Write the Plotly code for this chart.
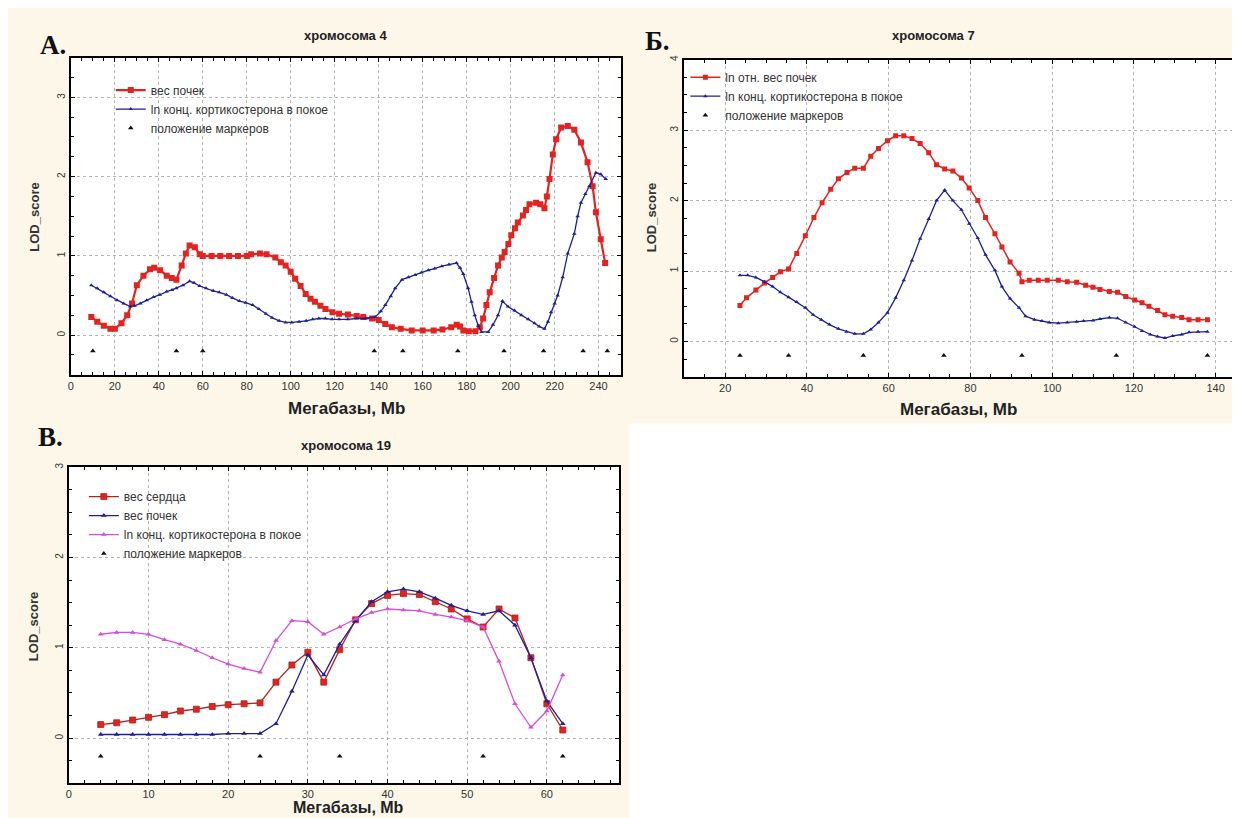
import plotly.graph_objects as go

FONT = "Liberation Sans"
W, H = 1240, 818

# ---------------- Panel A: chromosome 4 ----------------
a_red_x = [9.3, 12, 15, 18, 20, 23, 25.6, 27.8, 30, 33, 36, 37.9, 40.6, 43.6, 45.9, 48, 50.4, 52.3, 54, 56.4, 58.6,
           60, 64, 68, 72, 76, 80, 82, 86, 89, 93, 95.5, 97.7, 100, 102, 104.5, 106.8, 109, 111, 113.5, 115.8, 119,
           122, 126, 130, 133, 137, 140, 143, 146, 150, 155, 160, 165, 169, 173, 175.5, 177, 178.5, 181, 184, 186,
           187.5, 189, 190.5, 192.5, 194.3, 196, 197.3, 199, 200.3, 202, 203.3, 205.6, 207, 208.6, 211.6, 213.5,
           215.4, 216.5, 217.7, 219.2, 220.7, 223, 226, 229, 232, 235, 237.3, 238.8, 241, 243]
a_red_y = [0.23, 0.17, 0.12, 0.08, 0.08, 0.15, 0.25, 0.40, 0.63, 0.75, 0.83, 0.85, 0.82, 0.75, 0.72, 0.70, 0.88, 1.03,
           1.13, 1.11, 1.02, 1.00, 1.00, 1.00, 1.00, 1.00, 1.00, 1.02, 1.03, 1.02, 0.98, 0.92, 0.88, 0.80, 0.71, 0.62,
           0.52, 0.46, 0.42, 0.37, 0.33, 0.29, 0.27, 0.26, 0.24, 0.23, 0.21, 0.19, 0.14, 0.10, 0.08, 0.06, 0.06, 0.06,
           0.07, 0.10, 0.13, 0.11, 0.06, 0.05, 0.05, 0.10, 0.21, 0.38, 0.54, 0.72, 0.88, 0.98, 1.05, 1.15, 1.26, 1.35,
           1.42, 1.51, 1.58, 1.65, 1.67, 1.65, 1.60, 1.75, 1.97, 2.28, 2.47, 2.62, 2.64, 2.59, 2.43, 2.18, 1.88, 1.55,
           1.21, 0.91]
a_blue_x = [9.3, 12, 15, 18, 21, 24, 27, 29, 31.6, 34.5, 37.6, 40.5, 43.6, 46, 48, 51, 54, 56, 58.6, 61.5, 64.7, 67.5,
            70.7, 73.5, 76.7, 79.5, 82.7, 85.5, 88.7, 91.5, 94.7, 97.7, 100.5, 103.8, 107, 110, 112.8, 115.8, 118.8,
            122, 126, 130, 134, 138.5, 141, 143, 145.5, 147.5, 150.6, 153.5, 156.6, 159.5, 162.6, 165.5, 168.7, 172,
            175.4, 177, 178.5, 180.7, 182.2, 183.7, 185.3, 186.8, 189.8, 192, 194.3, 196.3, 198.8, 201.8, 204.9, 208,
            210.9, 213, 215.4, 217, 218.4, 220, 221.4, 223.7, 226, 229, 230.5, 232, 234, 235.8, 238.8, 241, 243.3]
a_blue_y = [0.63, 0.59, 0.54, 0.49, 0.44, 0.40, 0.36, 0.37, 0.40, 0.44, 0.48, 0.51, 0.55, 0.57, 0.59, 0.63, 0.68, 0.66,
            0.62, 0.59, 0.56, 0.54, 0.51, 0.47, 0.43, 0.41, 0.38, 0.33, 0.27, 0.22, 0.18, 0.16, 0.16, 0.17, 0.18, 0.20,
            0.21, 0.21, 0.20, 0.20, 0.20, 0.21, 0.21, 0.23, 0.30, 0.38, 0.49, 0.59, 0.70, 0.73, 0.76, 0.79, 0.82, 0.84,
            0.87, 0.89, 0.91, 0.85, 0.77, 0.59, 0.42, 0.25, 0.12, 0.04, 0.04, 0.13, 0.25, 0.43, 0.36, 0.31, 0.25, 0.20,
            0.15, 0.11, 0.08, 0.17, 0.29, 0.40, 0.50, 0.73, 1.03, 1.28, 1.50, 1.67, 1.78, 1.88, 2.05, 2.03, 1.97]
a_mark_x = [10, 48, 60, 138, 151, 176, 197, 215, 233, 244]
a_mark_y = [-0.2] * len(a_mark_x)

# ---------------- Panel Б: chromosome 7 ----------------
b_red_x = [23.6, 25.2, 27.5, 29.6, 31.6, 33.5, 35.5, 37.5, 39.6, 41.7, 43.7, 45.8, 47.7, 49.8, 51.7, 53.8, 55.6, 57.5,
           59.7, 61.7, 63.7, 65.7, 67.7, 69.8, 71.7, 73.7, 75.7, 77.8, 79.7, 81.8, 83.7, 86, 87.7, 89.7, 91.9, 92.6,
           94.4, 96.6, 98.8, 101.5, 103.7, 106, 108.2, 110, 111.7, 114, 116, 118, 120.2, 122, 123.7, 125.8, 127.6,
           129.5, 131.7, 133.5, 135.7, 138]
b_red_y = [0.51, 0.62, 0.73, 0.83, 0.91, 0.99, 1.03, 1.25, 1.50, 1.76, 1.97, 2.16, 2.31, 2.40, 2.46, 2.46, 2.63, 2.74,
           2.85, 2.92, 2.92, 2.88, 2.81, 2.68, 2.51, 2.45, 2.42, 2.32, 2.18, 2.00, 1.76, 1.53, 1.34, 1.13, 0.97, 0.85,
           0.87, 0.87, 0.87, 0.87, 0.85, 0.84, 0.80, 0.77, 0.74, 0.71, 0.70, 0.64, 0.59, 0.55, 0.50, 0.44, 0.38, 0.36,
           0.34, 0.31, 0.31, 0.31]
b_blue_x = [23.6, 25.5, 27.5, 29.6, 31.6, 33.5, 35.5, 37.5, 39.6, 41.5, 43.5, 45.5, 47.7, 49.7, 51.7, 53.8, 55.6, 57.5,
            59.7, 61.7, 63.7, 65.7, 67.7, 69.8, 71.7, 73.7, 75.7, 77.8, 79.7, 81.8, 83.7, 86, 87.7, 89.7, 91.9, 93.5,
            95.7, 97.5, 99.3, 101.5, 103.7, 106, 107.7, 110, 111.7, 114, 116, 118, 120.2, 122, 124, 125.8, 127.6,
            129.5, 131.7, 133.5, 135.7, 138]
b_blue_y = [0.94, 0.94, 0.91, 0.85, 0.78, 0.70, 0.63, 0.56, 0.48, 0.38, 0.31, 0.24, 0.18, 0.14, 0.11, 0.11, 0.17, 0.27,
            0.41, 0.62, 0.87, 1.15, 1.46, 1.74, 2.00, 2.15, 2.00, 1.87, 1.67, 1.47, 1.23, 1.01, 0.78, 0.61, 0.48, 0.36,
            0.31, 0.29, 0.27, 0.26, 0.27, 0.28, 0.29, 0.30, 0.32, 0.34, 0.33, 0.27, 0.21, 0.15, 0.10, 0.07, 0.05, 0.08,
            0.10, 0.13, 0.14, 0.14]
b_mark_x = [23.6, 35.5, 53.8, 73.5, 92.6, 115.7, 138]
b_mark_y = [-0.2] * len(b_mark_x)

# ---------------- Panel В: chromosome 19 ----------------
c_x = [4, 6, 8, 10, 12, 14, 16, 18, 20, 22, 24, 26, 28, 30, 32, 34, 36, 38, 40, 42, 44, 46, 48, 50, 52, 54, 56, 58,
       60, 62]
c_heart_y = [0.15, 0.17, 0.20, 0.23, 0.26, 0.30, 0.32, 0.35, 0.37, 0.38, 0.39, 0.62, 0.81, 0.95, 0.62, 0.98, 1.31,
             1.49, 1.58, 1.60, 1.59, 1.51, 1.43, 1.32, 1.23, 1.43, 1.33, 0.89, 0.38, 0.09]
c_kidney_y = [0.04, 0.04, 0.04, 0.04, 0.04, 0.04, 0.04, 0.04, 0.05, 0.05, 0.05, 0.16, 0.52, 0.92, 0.70, 1.04, 1.30,
              1.51, 1.62, 1.65, 1.62, 1.55, 1.47, 1.41, 1.37, 1.41, 1.25, 0.89, 0.41, 0.16]
c_cort_y = [1.15, 1.17, 1.17, 1.15, 1.09, 1.04, 0.97, 0.89, 0.82, 0.77, 0.73, 1.08, 1.30, 1.29, 1.15, 1.23, 1.32,
            1.39, 1.43, 1.42, 1.41, 1.37, 1.34, 1.30, 1.23, 0.85, 0.38, 0.12, 0.30, 0.70]
c_mark_x = [4, 24, 34, 52, 62]
c_mark_y = [-0.2] * len(c_mark_x)

RED = "#e2231f"
DARKRED = "#b0221c"
BLUE = "#1f1f96"
MAGENTA = "#d94cd9"
BLACK = "#111111"

fig = go.Figure()


def line(x, y, name, color, symbol, size, ax, legend, width=1.3, mcolor=None, mline=None):
    fig.add_trace(go.Scatter(
        x=x, y=y, mode="lines+markers", name=name,
        line=dict(color=color, width=width),
        marker=dict(symbol=symbol, size=size, color=mcolor or color,
                    line=dict(width=0.8 if mline else 0, color=mline or color)),
        xaxis="x" + ax, yaxis="y" + ax, legend=legend))


def marks(x, y, ax, legend):
    fig.add_trace(go.Scatter(
        x=x, y=y, mode="markers", name="положение маркеров",
        marker=dict(symbol="triangle-up", size=5, color=BLACK),
        xaxis="x" + ax, yaxis="y" + ax, legend=legend))


# A
line(a_red_x, a_red_y, "вес почек", RED, "square", 6, "", "legend", width=2.2)
line(a_blue_x, a_blue_y, "ln конц. кортикостерона в покое", BLUE, "triangle-up", 4, "", "legend", width=1.3)
marks(a_mark_x, a_mark_y, "", "legend")
# Б
line(b_red_x, b_red_y, "ln отн. вес почек", RED, "square", 5, "2", "legend2", width=1.5)
line(b_blue_x, b_blue_y, "ln конц. кортикостерона в покое", BLUE, "triangle-up", 4, "2", "legend2", width=1.3)
marks(b_mark_x, b_mark_y, "2", "legend2")
# В
line(c_x, c_heart_y, "вес сердца", DARKRED, "square", 6, "3", "legend3", width=1.3, mcolor=RED, mline=DARKRED)
line(c_x, c_kidney_y, "вес почек", BLUE, "triangle-up", 5, "3", "legend3", width=1.3)
line(c_x, c_cort_y, "ln конц. кортикостерона в покое", MAGENTA, "triangle-up", 5, "3", "legend3", width=1.3)
marks(c_mark_x, c_mark_y, "3", "legend3")


def px_x(px):
    return px / W


def px_y(py):
    return 1 - py / H


def xaxis(left, right, rng, dtick, minor, anchor):
    return dict(domain=[px_x(left), px_x(right)], range=rng, dtick=dtick, tick0=0, anchor=anchor,
                showline=True, linecolor="black", linewidth=2, mirror="allticks",
                ticks="inside", ticklen=4, tickcolor="black", tickwidth=1,
                showgrid=True, gridcolor="#b4b4b4", griddash="dot", gridwidth=1, zeroline=False,
                tickfont=dict(family=FONT, size=11, color="#333"),
                minor=dict(dtick=minor, ticks="inside", ticklen=3, tickcolor="black", showgrid=False))


def yaxis(top, bottom, rng, minor, anchor):
    return dict(domain=[px_y(bottom), px_y(top)], range=rng, dtick=1, tick0=0, anchor=anchor,
                showline=True, linecolor="black", linewidth=2, mirror="allticks",
                ticks="inside", ticklen=4, tickcolor="black", tickwidth=1, tickangle=-90,
                showgrid=True, gridcolor="#b4b4b4", griddash="dot", gridwidth=1, zeroline=False,
                tickfont=dict(family=FONT, size=10, color="#333"),
                minor=dict(dtick=minor, ticks="inside", ticklen=3, tickcolor="black", showgrid=False))


def legend(xpx, ypx):
    return dict(x=px_x(xpx), y=px_y(ypx), xanchor="left", yanchor="top", bgcolor="rgba(0,0,0,0)",
                font=dict(family=FONT, size=12, color="#333"), tracegroupgap=0, itemwidth=30,
                borderwidth=0)


def ann(text, xpx, ypx, size, bold=True, family=FONT, angle=0, color="#222"):
    return dict(text=("<b>%s</b>" % text) if bold else text, x=px_x(xpx), y=px_y(ypx),
                xref="paper", yref="paper", showarrow=False, xanchor="center", yanchor="middle",
                textangle=angle, font=dict(family=family, size=size, color=color))


SERIF = "Liberation Serif"
annotations = [
    ann("хромосома 4", 335, 23, 13),
    ann("хромосома 7", 925, 23, 13),
    ann("хромосома 19", 336, 435, 13),
    ann("А.", 42, 32, 27, family=SERIF, color="#111"),
    ann("Б.", 648, 28, 27, family=SERIF, color="#111"),
    ann("В.", 40, 427, 27, family=SERIF, color="#111"),
    ann("LOD_score", 24, 205, 13, angle=-90, color="#333"),
    ann("LOD_score", 642, 206, 13, angle=-90, color="#333"),
    ann("LOD_score", 22, 617, 13, angle=-90, color="#333"),
    ann("Мегабазы, Mb", 336, 398, 17),
    ann("Мегабазы, Mb", 950, 399, 17),
    ann("Мегабазы, Mb", 338, 799, 16),
]

fig.update_layout(
    width=W, height=H, margin=dict(l=0, r=0, t=0, b=0),
    paper_bgcolor="#fcf7e9", plot_bgcolor="white",
    font=dict(family=FONT, color="#222"),
    xaxis=xaxis(60, 611, [0, 250], 20, 5, "y"),
    yaxis=yaxis(45, 364, [-0.5, 3.5], 0.25, "x"),
    xaxis2=xaxis(675, 1228, [10, 145], 20, 5, "y2"),
    yaxis2=yaxis(47, 366, [-0.5, 4], 0.25, "x2"),
    xaxis3=xaxis(58, 609, [0, 69], 10, 2, "y3"),
    yaxis3=yaxis(457, 775, [-0.5, 3], 0.25, "x3"),
    legend=legend(100, 63),
    legend2=legend(676, 50),
    legend3=legend(73, 472),
    annotations=annotations,
    shapes=[dict(type="rect", xref="paper", yref="paper", x0=0.5, x1=1, y0=0, y1=px_y(413),
                 fillcolor="white", line=dict(width=0), layer="below")],
    showlegend=True,
)

fig.write_html("out.html")
